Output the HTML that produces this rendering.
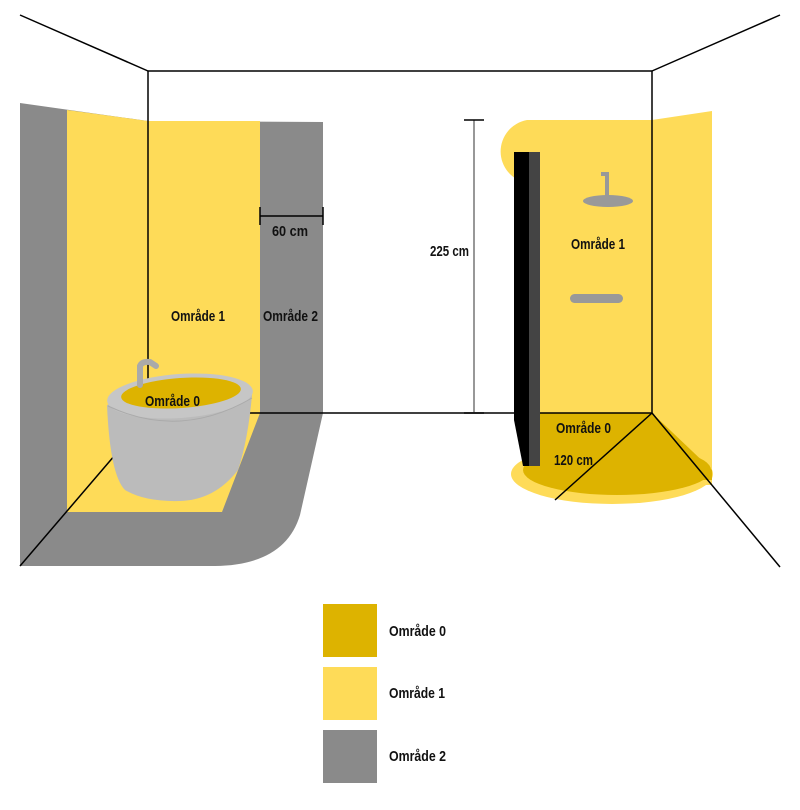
<!DOCTYPE html>
<html><head><meta charset="utf-8"><style>
html,body{margin:0;padding:0;background:#fff}
svg{display:block}
text{font-family:"Liberation Sans Narrow","Liberation Sans",sans-serif;font-weight:bold;font-size:15px;fill:#111}
</style></head><body>
<svg width="800" height="810" viewBox="0 0 800 810" xmlns="http://www.w3.org/2000/svg">
<path d="M20,103 L148,121 L323,122 L323,413 L300,515 Q285,565 215,566 L20,566 Z" fill="#8a8a8a"/>
<path d="M67,110 L148,121 L260,121 L260,413 L222,512 L67,512 Z" fill="#fedb58"/>
<path d="M527,120 L652,120 L712,111 L712,485 L540,485 L540,183 L527,183 A32,32 0 0 1 527,120 Z" fill="#fedb58"/>
<ellipse cx="612" cy="474" rx="101" ry="30" fill="#fedb58"/>
<ellipse cx="617" cy="470" rx="94" ry="25" fill="#ddb300"/>
<path d="M540,413 L652,413 L712,470 L712,480 L540,480 Z" fill="#ddb300"/>
<g stroke="#000" stroke-width="1.5" fill="none">
<line x1="20" y1="15" x2="148" y2="71"/>
<line x1="780" y1="15" x2="652" y2="71"/>
<line x1="148" y1="71" x2="652" y2="71"/>
<line x1="148" y1="71" x2="148" y2="385"/>
<line x1="652" y1="71" x2="652" y2="413"/>
<line x1="245" y1="413" x2="652" y2="413"/>
<line x1="20" y1="566" x2="115" y2="455"/>
<line x1="652" y1="413" x2="780" y2="567"/>
<line x1="652" y1="413" x2="555" y2="500"/>
</g>
<path d="M107,405 Q110,475 125,490 Q145,502 180,501 Q215,500 238,470 Q248,440 252,395 L200,380 Z" fill="#bbb"/>
<ellipse cx="180" cy="396" rx="73" ry="22" fill="#c6c6c6" transform="rotate(-4 180 396)"/>
<path d="M108,406 Q180,440 252,398" stroke="#aaa" stroke-width="1" fill="none"/>
<ellipse cx="181" cy="393" rx="60" ry="15" fill="#ddb300" transform="rotate(-4 181 393)"/>
<path d="M140,385 L140,366 Q142,361 150,362 L156,366" stroke="#aaa" stroke-width="6" fill="none" stroke-linecap="round"/>
<path d="M514,152 L529,152 L529,466 L523,466 L514,420 Z" fill="#000"/>
<rect x="529" y="152" width="11" height="314" fill="#444"/>
<path d="M601,174 L607,174 L607,198" stroke="#999" stroke-width="4" fill="none"/>
<ellipse cx="608" cy="201" rx="25" ry="6" fill="#999"/>
<rect x="570" y="294" width="53" height="9" rx="4.5" fill="#999"/>
<g stroke-width="1.5">
<line x1="474" y1="120" x2="474" y2="413" stroke="#777"/>
<line x1="464" y1="120" x2="484" y2="120" stroke="#000"/>
<line x1="464" y1="413" x2="484" y2="413" stroke="#000"/>
<line x1="260" y1="216" x2="323" y2="216" stroke="#000"/>
<line x1="260" y1="207" x2="260" y2="225" stroke="#000"/>
<line x1="323" y1="207" x2="323" y2="225" stroke="#000"/>
</g>
<g lengthAdjust="spacingAndGlyphs">
<text x="272" y="236" font-size="14" textLength="36" lengthAdjust="spacingAndGlyphs">60 cm</text>
<text x="430" y="256" font-size="14" textLength="39" lengthAdjust="spacingAndGlyphs">225 cm</text>
<text x="171" y="321" textLength="54" lengthAdjust="spacingAndGlyphs">Område 1</text>
<text x="263" y="321" textLength="55" lengthAdjust="spacingAndGlyphs">Område 2</text>
<text x="145" y="406" textLength="55" lengthAdjust="spacingAndGlyphs">Område 0</text>
<text x="571" y="249" textLength="54" lengthAdjust="spacingAndGlyphs">Område 1</text>
<text x="556" y="433" textLength="55" lengthAdjust="spacingAndGlyphs">Område 0</text>
<text x="554" y="465" textLength="39" lengthAdjust="spacingAndGlyphs">120 cm</text>
</g>
<rect x="323" y="604" width="54" height="53" fill="#ddb300"/>
<rect x="323" y="667" width="54" height="53" fill="#fedb58"/>
<rect x="323" y="730" width="54" height="53" fill="#8a8a8a"/>
<text x="389" y="636" textLength="57" lengthAdjust="spacingAndGlyphs">Område 0</text>
<text x="389" y="698" textLength="56" lengthAdjust="spacingAndGlyphs">Område 1</text>
<text x="389" y="761" textLength="57" lengthAdjust="spacingAndGlyphs">Område 2</text>
</svg>
</body></html>
